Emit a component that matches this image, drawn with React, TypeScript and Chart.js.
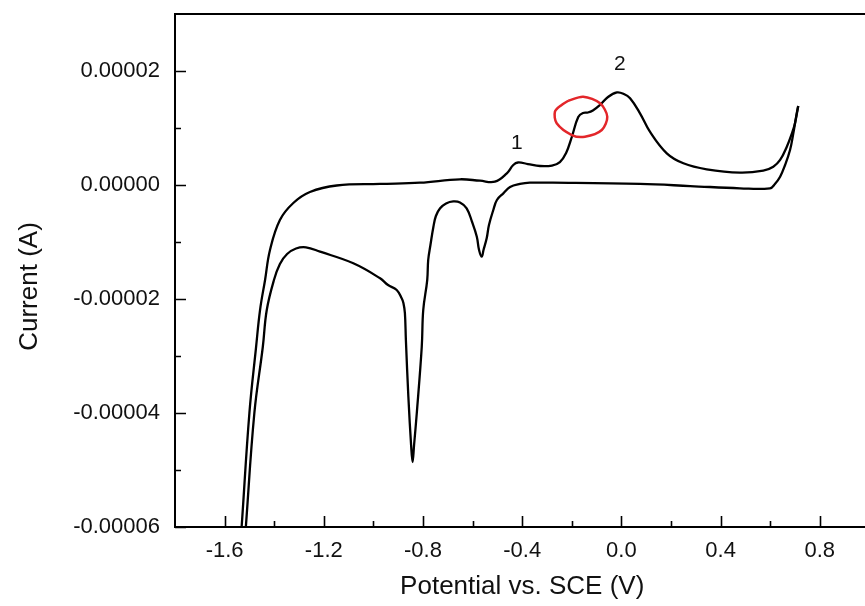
import React, { useEffect, useRef } from 'react';
import { Chart, registerables } from 'chart.js';

Chart.register(...registerables);

// Anodic (upper) branch, from the cathodic limit up to the switching potential
const forwardPotential = [-1.541, -1.531, -1.500, -1.473, -1.457, -1.437, -1.417, -1.377, -1.323, -1.256, -1.148, -0.973, -0.812, -0.651, -0.570, -0.510, -0.462, -0.436, -0.417, -0.377, -0.328, -0.280, -0.248, -0.223, -0.200, -0.174, -0.155, -0.135, -0.115, -0.086, -0.054, -0.018, 0.010, 0.035, 0.075, 0.115, 0.183, 0.250, 0.344, 0.478, 0.572, 0.6125, 0.640, 0.667, 0.688, 0.700, 0.713];
const forwardCurrent_uA = [-65.8, -59.8, -40.0, -28.4, -21.9, -16.7, -11.4, -6.14, -3.16, -1.23, -0.09, 0.18, 0.40, 1.0, 0.75, 0.58, 2.05, 3.51, 3.95, 3.68, 3.33, 3.42, 4.03, 5.61, 8.42, 11.93, 12.63, 12.72, 13.07, 14.04, 15.44, 16.23, 15.96, 15.21, 12.58, 9.35, 5.56, 3.81, 2.75, 2.16, 2.51, 3.21, 4.39, 6.72, 9.12, 10.82, 13.86];

// Cathodic (lower) return branch
const reversePotential = [0.713, 0.707, 0.692, 0.680, 0.660, 0.640, 0.619, 0.599, 0.478, 0.277, 0.075, -0.276, -0.369, -0.409, -0.449, -0.476, -0.502, -0.5165, -0.534, -0.543, -0.556, -0.563, -0.574, -0.583, -0.602, -0.624, -0.651, -0.678, -0.707, -0.731, -0.748, -0.758, -0.770, -0.779, -0.783, -0.799, -0.805, -0.825, -0.836, -0.842, -0.848, -0.859, -0.869, -0.873, -0.879, -0.886, -0.906, -0.941, -0.973, -1.081, -1.215, -1.272, -1.312, -1.348, -1.377, -1.401, -1.430, -1.446, -1.480, -1.514, -1.524];
const reverseCurrent_uA = [13.86, 12.58, 8.77, 6.14, 3.51, 1.46, 0.18, -0.58, -0.58, -0.18, 0.18, 0.40, 0.40, 0.18, -0.35, -1.46, -2.63, -4.39, -7.02, -9.30, -11.40, -12.58, -11.40, -9.07, -6.49, -4.09, -3.07, -2.89, -3.25, -4.09, -5.44, -7.32, -10.53, -13.16, -16.67, -21.93, -28.37, -40.0, -45.61, -48.60, -45.61, -37.14, -27.19, -22.46, -20.70, -19.88, -18.42, -17.54, -16.37, -13.74, -11.70, -10.93, -11.14, -12.11, -13.86, -16.67, -21.93, -28.42, -40.0, -59.8, -65.8];

// Hand-drawn red ring around the shoulder
const ringPotential = [-0.214, -0.154, -0.086, -0.057, -0.079, -0.147, -0.200, -0.261, -0.268, -0.241, -0.214];
const ringCurrent_uA = [14.79, 15.49, 14.33, 11.98, 9.65, 8.47, 8.77, 10.82, 12.86, 14.04, 14.79];

// Peak annotations
const peakLabels = ['1', '2'];
const peakLabelPotential = [-0.422, -0.006];
const peakLabelCurrent_uA = [7.3, 21.2];

// Axis ticks
const xMajorTicks = [-1.6, -1.2, -0.8, -0.4, 0.0, 0.4, 0.8];
const xMinorTicks = [-1.4, -1.0, -0.6, -0.2, 0.2, 0.6];
const yMajorTicks = [0.00002, 0, -0.00002, -0.00004, -0.00006];
const yMinorTicks = [0.00001, -0.00001, -0.00003, -0.00005];

const xTitle = 'Potential vs. SCE (V)';
const yTitle = 'Current (A)';

const FONT = '"Liberation Sans", Arial, Helvetica, sans-serif';

const toPoints = (xs: number[], ys_uA: number[]) => xs.map((x, i) => ({ x, y: ys_uA[i] * 1e-6 }));

const framePlugin = {
  id: 'frameAndTicks',
  afterDraw(chart: any) {
    const { ctx, chartArea: a, scales } = chart;
    const x = scales.x;
    const y = scales.y;
    ctx.save();
    ctx.strokeStyle = '#000';
    ctx.lineWidth = 2;
    ctx.strokeRect(a.left, a.top, a.right - a.left, a.bottom - a.top);
    ctx.lineWidth = 1.6;
    ctx.beginPath();
    const major = 11;
    const minor = 6;
    xMajorTicks.forEach((v) => {
      const p = Math.round(x.getPixelForValue(v)) + 0.5;
      ctx.moveTo(p, a.bottom);
      ctx.lineTo(p, a.bottom - major);
    });
    xMinorTicks.forEach((v) => {
      const p = Math.round(x.getPixelForValue(v)) + 0.5;
      ctx.moveTo(p, a.bottom);
      ctx.lineTo(p, a.bottom - minor);
    });
    yMajorTicks.forEach((v) => {
      const p = Math.round(y.getPixelForValue(v)) + 0.5;
      ctx.moveTo(a.left, p);
      ctx.lineTo(a.left + major, p);
    });
    yMinorTicks.forEach((v) => {
      const p = Math.round(y.getPixelForValue(v)) + 0.5;
      ctx.moveTo(a.left, p);
      ctx.lineTo(a.left + minor, p);
    });
    ctx.stroke();

    ctx.fillStyle = '#111';
    ctx.font = `21px ${FONT}`;
    ctx.textAlign = 'center';
    ctx.textBaseline = 'middle';
    peakLabels.forEach((t, i) => {
      ctx.fillText(t, x.getPixelForValue(peakLabelPotential[i]), y.getPixelForValue(peakLabelCurrent_uA[i] * 1e-6));
    });

    // vertical axis title, sitting a little below the middle of the axis as in the source figure
    ctx.font = `26px ${FONT}`;
    ctx.translate(30, (a.top + a.bottom) / 2 + 16);
    ctx.rotate(-Math.PI / 2);
    ctx.fillText(yTitle, 0, 0);
    ctx.restore();
  },
};

export default function App() {
  const ref = useRef<HTMLCanvasElement | null>(null);

  useEffect(() => {
    if (!ref.current) return;
    const chart = new Chart(ref.current, {
      type: 'scatter',
      data: {
        datasets: [
          {
            label: 'ring',
            data: toPoints(ringPotential, ringCurrent_uA),
            showLine: true,
            borderColor: '#e3262a',
            borderWidth: 2.5,
            pointRadius: 0,
            tension: 0.3,
            fill: false,
          },
          {
            label: 'anodic',
            data: toPoints(forwardPotential, forwardCurrent_uA),
            showLine: true,
            borderColor: '#000',
            borderWidth: 2.3,
            pointRadius: 0,
            tension: 0.4,
            fill: false,
          },
          {
            label: 'cathodic',
            data: toPoints(reversePotential, reverseCurrent_uA),
            showLine: true,
            borderColor: '#000',
            borderWidth: 2.3,
            pointRadius: 0,
            tension: 0.4,
            fill: false,
          },
        ],
      },
      options: {
        animation: false,
        responsive: false,
        devicePixelRatio: 1,
        layout: { padding: { top: 14, right: 10.6, left: 0, bottom: 0 } },
        plugins: { legend: { display: false }, tooltip: { enabled: false } },
        scales: {
          x: {
            type: 'linear',
            min: -1.8,
            max: 1.0,
            grid: { display: false, drawTicks: false },
            border: { display: false },
            ticks: {
              color: '#111',
              font: { family: FONT, size: 22 },
              padding: 11,
              maxRotation: 0,
              autoSkip: false,
              callback: (v: any) => Number(v).toFixed(1),
            },
            afterBuildTicks: (s: any) => {
              s.ticks = xMajorTicks.map((value) => ({ value }));
            },
            afterFit: (s: any) => {
              s.height = 79;
              s.paddingLeft = 0;
              s.paddingRight = 0;
            },
            title: {
              display: true,
              text: xTitle,
              color: '#111',
              font: { family: FONT, size: 26 },
              padding: { top: 0, bottom: 4 },
            },
          },
          y: {
            type: 'linear',
            min: -0.00006,
            max: 0.00003,
            grid: { display: false, drawTicks: false },
            border: { display: false },
            ticks: {
              color: '#111',
              font: { family: FONT, size: 22 },
              padding: 15,
              autoSkip: false,
              callback: (v: any) => Number(v).toFixed(5),
            },
            afterBuildTicks: (s: any) => {
              s.ticks = yMajorTicks.map((value) => ({ value }));
            },
            afterFit: (s: any) => {
              s.width = 175;
              s.paddingTop = 0;
              s.paddingBottom = 0;
            },
          },
        },
      },
      plugins: [framePlugin],
    });
    return () => chart.destroy();
  }, []);

  return (
    <div style={{ position: 'fixed', left: 0, top: 0, width: 865, height: 606, overflow: 'hidden', background: '#fff' }}>
      <canvas ref={ref} width={880} height={606} style={{ display: 'block', width: 880, height: 606 }} />
    </div>
  );
}
